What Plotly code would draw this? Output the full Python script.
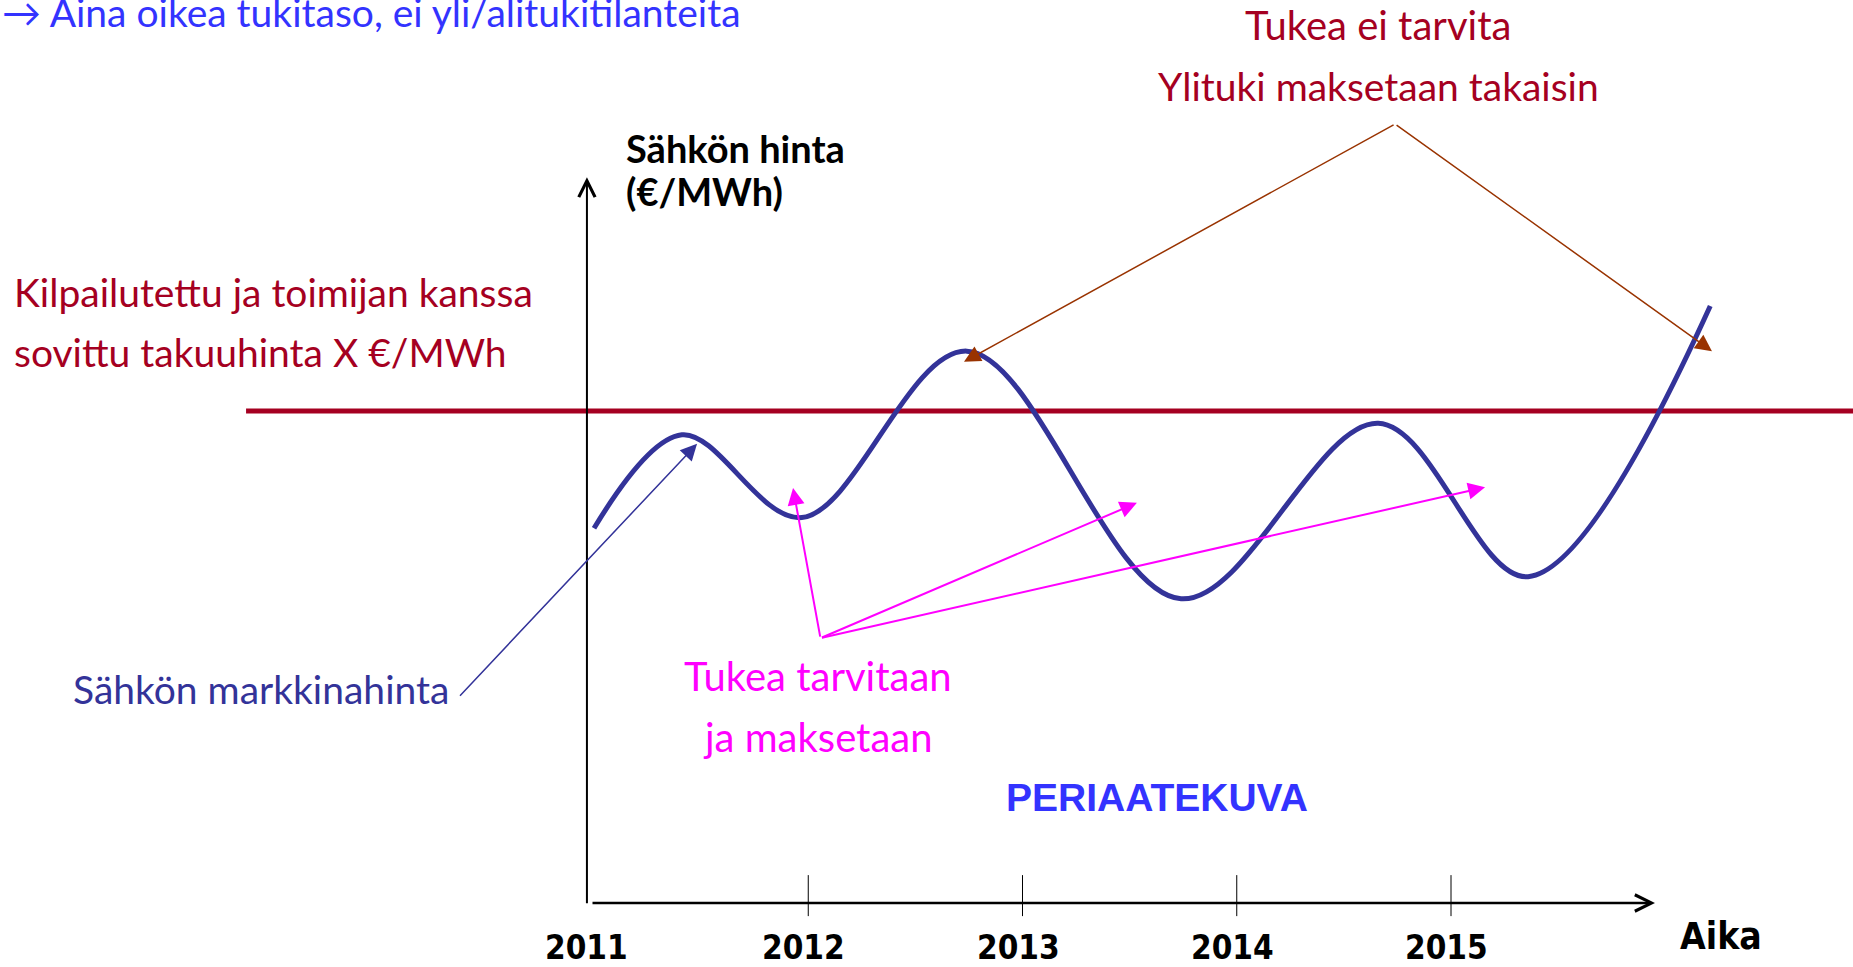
import plotly.graph_objects as go

# ---------------- data ----------------
curve_years = [2011.00, 2011.41, 2011.97, 2012.74, 2013.74, 2014.66, 2015.36, 2016.21]
curve_price = [45.7, 57.1, 47.0, 67.3, 37.1, 58.5, 39.8, 72.8]
guarantee_price = 60.0
tick_years = [2011, 2012, 2013, 2014, 2015]
tick_labels = ["2011", "2012", "2013", "2014", "2015"]

# pointers (year, price) used by the annotation arrows
market_arrow_tail = (2010.368, 25.1)
market_arrow_head = (2011.481, 56.0)
support_origin = (2012.057, 32.3)
support_heads = [(2011.929, 50.6), (2013.534, 48.8), (2015.159, 50.7)]
over_origin = (2014.739, 95.0)
over_heads = [(2012.727, 66.0), (2016.218, 67.3)]
y_axis_year = 2010.967
x_axis_end_year = 2015.952
y_axis_top = 88.5
red_line_start_year = 2009.376

# ---------------- layout geometry ----------------
W, H = 1853, 967
X0_PX, PX_PER_YEAR = 594, 214.25
Y0_PX, PX_PER_UNIT = 903, 8.2
x_range = [2011 - X0_PX / PX_PER_YEAR, 2011 + (W - X0_PX) / PX_PER_YEAR]
y_range = [-(H - Y0_PX) / PX_PER_UNIT, Y0_PX / PX_PER_UNIT]


def px(xp):
    return xp / W


def py(yp):
    return 1 - yp / H


GILL = "Lato, 'Open Sans', sans-serif"
NARROW = "'Liberation Sans Narrow', 'DejaVu Sans Condensed', 'Liberation Sans', sans-serif"
DARKRED = "#A50021"
NAVY = "#333399"
MAGENTA = "#FF00FF"
BROWN = "#993300"
BLUE = "#3333FF"

fig = go.Figure()

# market price curve
fig.add_trace(go.Scatter(
    x=curve_years, y=curve_price, mode="lines",
    line=dict(color=NAVY, width=5, shape="spline", smoothing=1.0),
    hoverinfo="skip"))

# guaranteed price line
fig.add_shape(type="line", xref="x", yref="y",
              x0=red_line_start_year, x1=x_range[1], y0=guarantee_price, y1=guarantee_price,
              line=dict(color=DARKRED, width=5), layer="below")

# tick marks on time axis
for ty in tick_years[1:]:
    fig.add_shape(type="line", xref="x", yref="y", x0=ty, x1=ty, y0=3.4, y1=-1.6,
                  line=dict(color="black", width=1))

annotations = []


def arrow(head, tail, color, width, head_style, size):
    annotations.append(dict(
        x=head[0], y=head[1], ax=tail[0], ay=tail[1],
        xref="x", yref="y", axref="x", ayref="y",
        text="", showarrow=True, arrowhead=head_style, arrowsize=size,
        arrowwidth=width, arrowcolor=color, standoff=0, startstandoff=0))


# axes with arrows
arrow((y_axis_year, y_axis_top), (y_axis_year, -0.2), "black", 2, 5, 1.6)
arrow((x_axis_end_year, 0), (2010.986, 0), "black", 2.5, 5, 1.3)

# pointer arrows
arrow(market_arrow_head, market_arrow_tail, NAVY, 1.5, 2, 2.2)
for h in support_heads:
    arrow(h, support_origin, MAGENTA, 2, 2, 1.7)
for h in over_heads:
    arrow(h, over_origin, BROWN, 1.5, 2, 2.2)

# tick labels
for ty, lab in zip(tick_years, tick_labels):
    xx = y_axis_year if ty == tick_years[0] else ty - 0.02
    annotations.append(dict(x=xx, y=-5.4, xref="x", yref="y", text=lab, showarrow=False,
                            xanchor="center", yanchor="middle",
                            font=dict(family=NARROW, size=33, color="black", weight="bold")))


def label(text, x, y, color, size, family=GILL, xanchor="left", bold=False):
    annotations.append(dict(x=px(x), y=py(y), xref="paper", yref="paper", text=text,
                            showarrow=False, xanchor=xanchor, yanchor="middle",
                            font=dict(family=family, size=size, color=color,
                                      weight="bold" if bold else "normal")))


label("\u2192 Aina oikea tukitaso, ei yli/alitukitilanteita", 0, 12, BLUE, 39)
label("Tukea ei tarvita", 1378, 25, DARKRED, 40, xanchor="center")
label("Ylituki maksetaan takaisin", 1378, 86, DARKRED, 39, xanchor="center")
label("Kilpailutettu ja toimijan kanssa", 12, 292, DARKRED, 39)
label("sovittu takuuhinta X \u20ac/MWh", 12, 352, DARKRED, 39)
label("Sähkön hinta", 624, 148, "black", 38, bold=True)
label("(\u20ac/MWh)", 624, 191, "black", 38, bold=True)
label("Sähkön markkinahinta", 71, 689, NAVY, 39)
label("Tukea tarvitaan", 818, 676, MAGENTA, 40, xanchor="center")
label("ja maksetaan", 818, 737, MAGENTA, 40, xanchor="center")
label("PERIAATEKUVA", 1157, 797, BLUE, 39, family="'Liberation Sans', Arial, sans-serif",
      xanchor="center", bold=True)
label("Aika", 1721, 936, "black", 37, family=NARROW, xanchor="center", bold=True)

fig.update_layout(
    width=W, height=H, margin=dict(l=0, r=0, t=0, b=0),
    paper_bgcolor="white", plot_bgcolor="white", showlegend=False,
    xaxis=dict(range=x_range, visible=False, fixedrange=True),
    yaxis=dict(range=y_range, visible=False, fixedrange=True),
    annotations=annotations,
)

fig.write_html("out.html", config={"displayModeBar": False},
               post_script="document.body.style.margin='0';document.body.style.overflow='hidden';")
